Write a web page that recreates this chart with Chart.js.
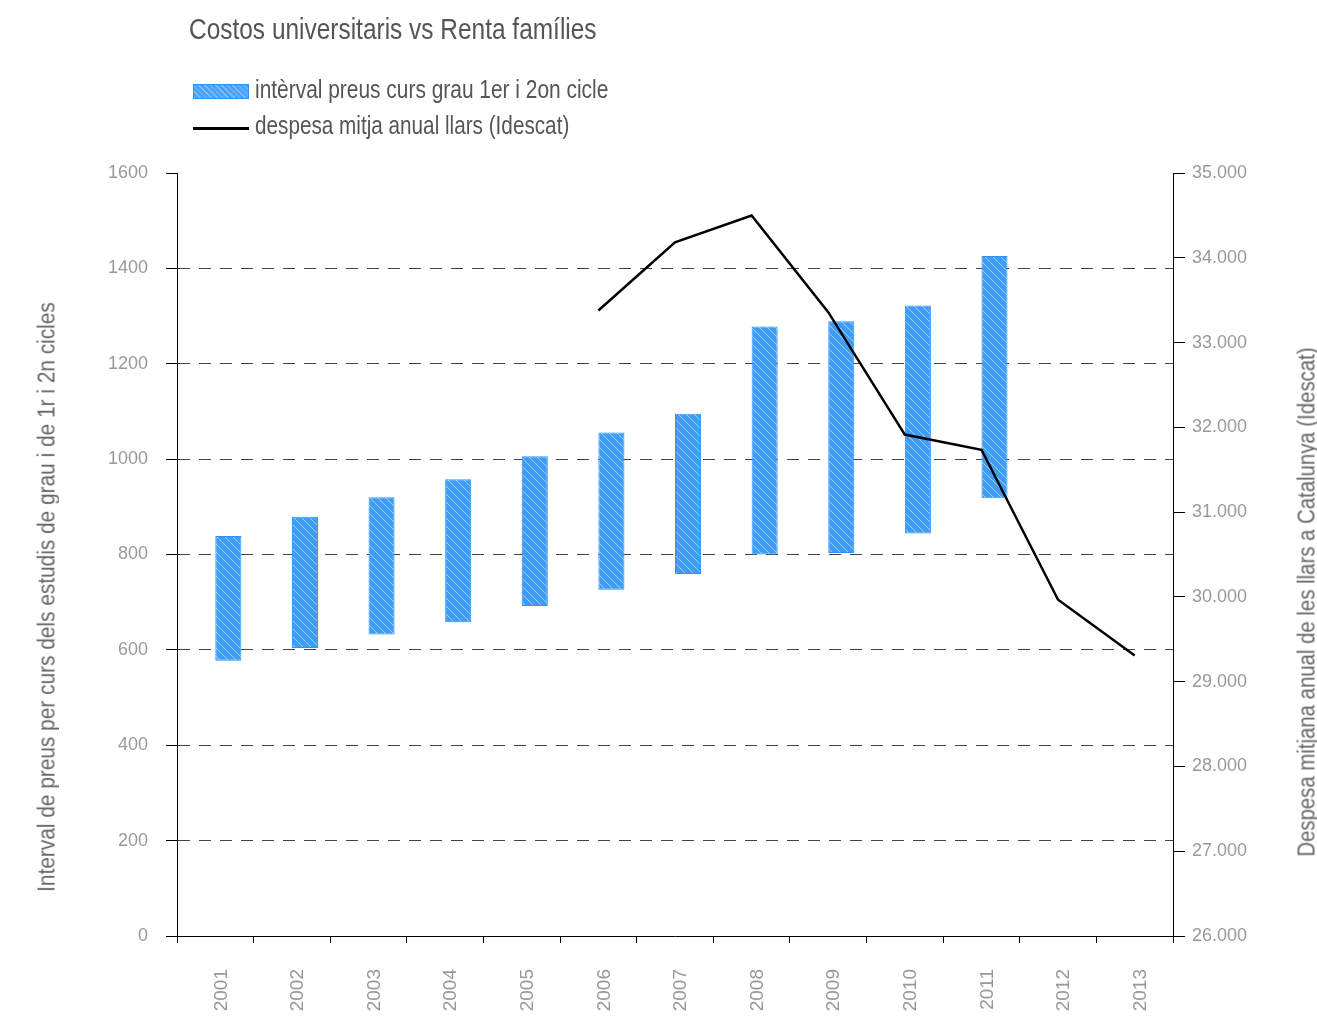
<!DOCTYPE html>
<html>
<head>
<meta charset="utf-8">
<script src="https://cdn.jsdelivr.net/npm/chart.js@4.4.1/dist/chart.umd.min.js"></script>
<style>
  html, body { margin: 0; padding: 0; background: #fff; }
  #wrap { position: relative; width: 1317px; height: 1021px; overflow: hidden; }
  #chart { position: absolute; left: 0; top: 0; }
  .txt { position: absolute; font-family: "Liberation Sans", Arial, sans-serif; color: #555; white-space: nowrap; line-height: 1; transform-origin: 0 50%; }
  .rot { transform-origin: 50% 50%; color: #666; font-size: 23px; }
  #swatch { position: absolute; left: 193px; top: 84px; width: 54px; height: 13px; border: 1px solid #2b93f5;
    background-color: #4aa3f8;
    background-image: repeating-linear-gradient(45deg, rgba(255,255,255,0.3) 0 1px, transparent 1px 4px); }
  #lineKey { position: absolute; left: 193px; top: 127px; width: 56px; height: 3px; background: #000; }
</style>
</head>
<body>
<div id="wrap">
  <canvas id="chart" width="1317" height="1021"></canvas>
  <div class="txt fit" data-w="408" style="left:189px;top:15px;font-size:29px;">Costos universitaris vs Renta famílies</div>
  <div id="swatch"></div>
  <div class="txt fit" data-w="353" style="left:255px;top:77px;font-size:25px;">intèrval preus curs grau 1er i 2on cicle</div>
  <div id="lineKey"></div>
  <div class="txt fit" data-w="314" style="left:255px;top:113px;font-size:25px;">despesa mitja anual llars (Idescat)</div>
  <div class="txt rot fit" data-w="590" style="left:47px;top:597px;">Interval de preus per curs dels estudis de grau i de 1r i 2n cicles</div>
  <div class="txt rot fit" data-w="509" style="left:1307px;top:602px;">Despesa mitjana anual de les llars a Catalunya (Idescat)</div>
</div>
<script>
// data
const years = ['2001', '2002', '2003', '2004', '2005', '2006', '2007', '2008', '2009', '2010', '2011', '2012', '2013'];
const priceLow  = [577, 604, 632, 658, 692, 726, 759, 800, 803, 844, 918, null, null];
const priceHigh = [839, 879, 920, 958, 1006, 1056, 1095, 1278, 1289, 1322, 1426, null, null];
const householdSpend = [null, null, null, null, null, 33378, 34183, 34498, 33358, 31915, 31735, 29966, 29309];

const leftMin = 0, leftMax = 1600, leftStep = 200;
const rightMin = 26000, rightMax = 35000, rightStep = 1000;

function fmtThousands(v) {
  return String(v).replace(/\B(?=(\d{3})+(?!\d))/g, '.');
}

// squeeze the html labels to the narrow look of the original
document.querySelectorAll('.fit').forEach(el => {
  const s = (+el.dataset.w) / el.offsetWidth;
  const pre = el.classList.contains('rot') ? 'translate(-50%, -50%) rotate(-90deg) ' : '';
  el.style.transform = pre + 'scaleX(' + s + ')';
});

// hatched fill like the original bars
function hatch() {
  const c = document.createElement('canvas');
  c.width = 8; c.height = 8;
  const g = c.getContext('2d');
  g.fillStyle = '#4aa3f8';
  g.fillRect(0, 0, 8, 8);
  for (let y = 0; y < 8; y++) {
    for (let x = 0; x < 8; x++) {
      if ((x + y) % 2 === 0) { g.fillStyle = '#3595f4'; g.fillRect(x, y, 1, 1); }
      if ((x - y + 8) % 8 === 0) { g.fillStyle = '#8cc8ff'; g.fillRect(x, y, 1, 1); }
    }
  }
  return g.createPattern(c, 'repeat');
}

const ranges = years.map((y, i) => priceLow[i] == null ? null : [priceLow[i], priceHigh[i]]);
const spacer = years.map(() => null); // empty slot so the bar sits right of the year centre

const tickFont = { family: '"Liberation Sans", Arial, sans-serif', size: 18 };
const ctx = document.getElementById('chart');

new Chart(ctx, {
  type: 'bar',
  data: {
    labels: years,
    datasets: [
      {
        type: 'line',
        label: 'despesa mitja anual llars (Idescat)',
        data: householdSpend,
        yAxisID: 'y1',
        borderColor: '#000',
        borderWidth: 2.5,
        pointRadius: 0,
        tension: 0,
        order: 0
      },
      {
        label: '',
        data: spacer,
        yAxisID: 'y',
        order: 1
      },
      {
        label: 'intèrval preus curs grau 1er i 2on cicle',
        data: ranges,
        yAxisID: 'y',
        backgroundColor: hatch(),
        borderColor: '#2b93f5',
        borderWidth: 1,
        borderSkipped: false,
        order: 1
      }
    ]
  },
  options: {
    responsive: false,
    animation: false,
    categoryPercentage: 0.68,
    barPercentage: 1.0,
    layout: { padding: { top: 173, left: 0, right: 0, bottom: 0 } },
    plugins: {
      legend: { display: false },
      tooltip: { enabled: false }
    },
    scales: {
      x: {
        grid: { offset: true, drawOnChartArea: false, tickLength: 7, tickColor: '#000' },
        border: { color: '#000' },
        ticks: {
          minRotation: 90, maxRotation: 90, autoSkip: false,
          padding: 26, labelOffset: 6, color: '#999', font: { family: tickFont.family, size: 19 }
        },
        afterFit(s) { s.height = 85; }
      },
      y: {
        position: 'left',
        min: leftMin, max: leftMax,
        ticks: { stepSize: leftStep, padding: 18, color: '#999', font: tickFont, callback: v => String(v) },
        grid: {
          color: c => (c.tick && (c.tick.value === leftMin || c.tick.value === leftMax)) ? 'rgba(0,0,0,0)' : '#444',
          tickColor: '#000', tickLength: 11, tickBorderDash: []
        },
        border: { color: '#000', dash: [12, 9] },
        afterFit(s) { s.width = 177; }
      },
      y1: {
        position: 'right',
        min: rightMin, max: rightMax,
        ticks: { stepSize: rightStep, padding: 7, color: '#999', font: tickFont, callback: v => fmtThousands(v) },
        grid: { drawOnChartArea: false, tickLength: 12, tickColor: '#000' },
        border: { color: '#000' },
        afterFit(s) { s.width = 144; }
      }
    }
  }
});
</script>
</body>
</html>
